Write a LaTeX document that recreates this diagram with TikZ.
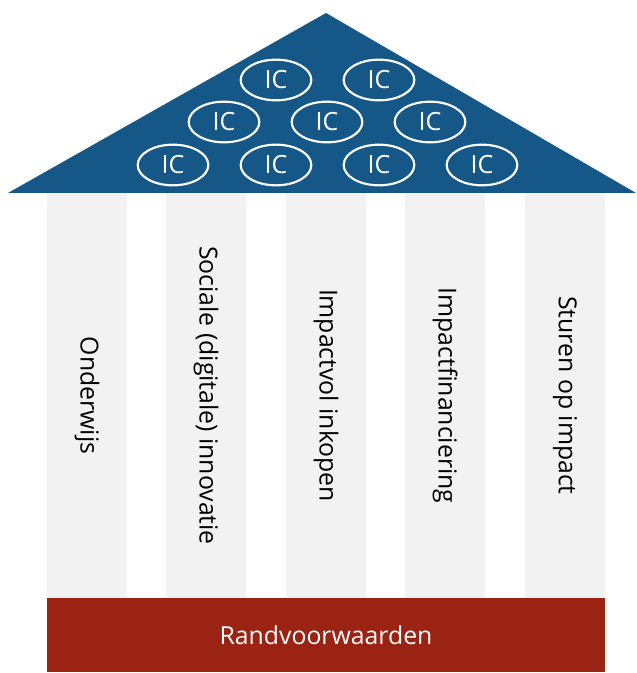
\documentclass[tikz,border=0pt]{standalone}
\usepackage{fontspec}
\setmainfont{Open Sans}
\usetikzlibrary{shapes.geometric}
\definecolor{roofblue}{RGB}{21,88,135}
\definecolor{baseRed}{RGB}{155,35,20}
\definecolor{pillarGrey}{RGB}{242,242,242}
\begin{document}
\begin{tikzpicture}[x=0.75pt,y=-0.75pt,
  ic/.style={ellipse,draw=white,line width=1.6pt,text=white,minimum width=53pt,minimum height=30.5pt,inner sep=0pt,font=\fontsize{18.8}{19}\selectfont},
  pillar/.style={rectangle,fill=pillarGrey,rotate=-90,minimum width=303.75pt,minimum height=60pt,inner sep=0pt,font=\fontsize{18.6}{19}\selectfont}]
  \useasboundingbox (0,0) rectangle (636,673);
  \fill[roofblue] (8,193) -- (326,13) -- (636,193) -- cycle;
  \node[ic] (ic1) at (276,80) {IC};
  \node[ic] (ic2) at (379,80) {IC};
  \node[ic] (ic3) at (224,122) {IC};
  \node[ic] (ic4) at (327,122) {IC};
  \node[ic] (ic5) at (430,122) {IC};
  \node[ic] (ic6) at (173,165) {IC};
  \node[ic] (ic7) at (276,165) {IC};
  \node[ic] (ic8) at (379,165) {IC};
  \node[ic] (ic9) at (482,165) {IC};
  \node[pillar] (p1) at (87,395.5) {Onderwijs};
  \node[pillar] (p2) at (206,395.5) {Sociale (digitale) innovatie};
  \node[pillar] (p3) at (326,395.5) {Impactvol inkopen};
  \node[pillar] (p4) at (445,395.5) {Impactfinanciering};
  \node[pillar] (p5) at (565,395.5) {Sturen op impact};
  \node[fill=baseRed,text=white,minimum width=418.5pt,minimum height=55.5pt,inner sep=0pt,font=\fontsize{18.6}{19}\selectfont] (base) at (326,635) {Randvoorwaarden};
\end{tikzpicture}
\end{document}
